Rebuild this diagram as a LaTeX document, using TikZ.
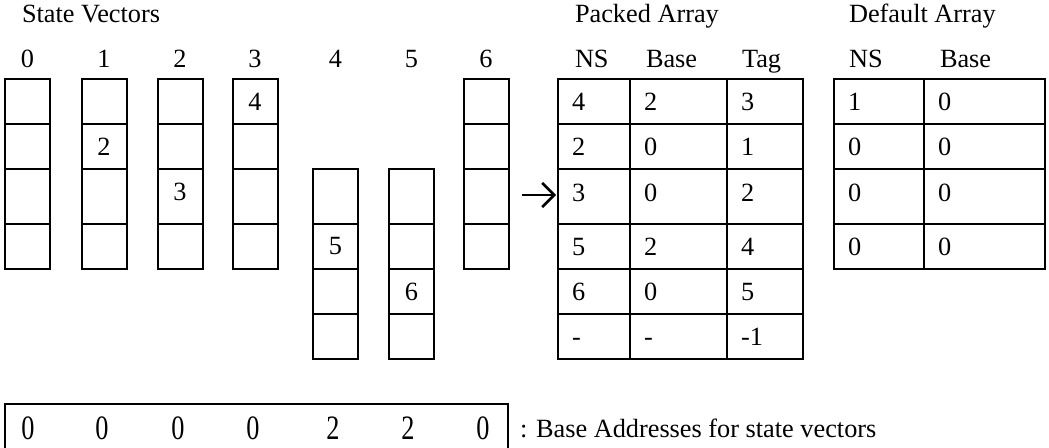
\documentclass[tikz,border=0pt]{standalone}
\usepackage{fontspec}
\setmainfont{Liberation Serif}
\usetikzlibrary{arrows.meta}

\begin{document}
\begin{tikzpicture}[x=1pt, y=-1pt, line width=2pt,
  font=\fontsize{26.3}{31}\selectfont,
  cell/.style = {draw, minimum width=45, minimum height=45, inner sep=0, outer sep=0},
  tall/.style = {minimum height=55},
  entry/.style = {draw, inner xsep=14, inner ysep=0, outer sep=0, text height=18pt, align=left, anchor=west},
  head/.style = {inner sep=0, anchor=base west},
  lab/.style = {inner sep=0, anchor=base}]
\useasboundingbox (0,0) rectangle (1049,447);
\clip (0,0) rectangle (1049,447);

% state vectors
\node[head] (svt) at (21,23) {State Vectors};
\foreach \c/\x in {0/27.5, 1/104, 2/180, 3/255, 6/486} {
  \node[lab] (l\c) at (\x,67) {\c};
  \node[cell] (s\c-1) at (\x,101.5) {};
  \node[cell] (s\c-2) at (\x,146.5) {};
  \node[cell, tall] (s\c-3) at (\x,196.5) {};
  \node[cell] (s\c-4) at (\x,246.5) {};
}
\foreach \c/\x in {4/335.5, 5/411.5} {
  \node[lab] (l\c) at (\x,67) {\c};
  \node[cell, tall] (s\c-3) at (\x,196.5) {};
  \node[cell] (s\c-4) at (\x,246.5) {};
  \node[cell] (s\c-5) at (\x,291.5) {};
  \node[cell] (s\c-6) at (\x,336.5) {};
}
\node at (s3-1) {4};
\node at (s1-2) {2};
\node at ([yshift=4.5pt]s2-3) {3};
\node at (s4-4) {5};
\node at (s5-5) {6};

% packed array
\node[head] (pat) at (574,23) {Packed Array};
\node[head] at (574,67) {NS};
\node[head] at (645,67) {Base};
\node[head] at (741,67) {Tag};
\foreach \r/\y/\h/\d/\ns/\bs/\tg in {1/101.5/45/0/4/2/3, 2/146.5/45/0/2/0/1,
    3/196.5/55/9/3/0/2, 4/246.5/45/0/5/2/4, 5/291.5/45/0/6/0/5, 6/336.5/45/0/-/-/-1} {
  \node[entry, minimum height=\h, text depth=\d, text width=44] (p\r-1) at (558,\y) {\ns};
  \node[entry, minimum height=\h, text depth=\d, text width=69] (p\r-2) at (630,\y) {\bs};
  \node[entry, minimum height=\h, text depth=\d, text width=48] (p\r-3) at (727,\y) {\tg};
}

% default array
\node[head] (dat) at (848,23) {Default Array};
\node[head] at (848,67) {NS};
\node[head] at (939,67) {Base};
\foreach \r/\y/\h/\d/\ns/\bs in {1/101.5/45/0/1/0, 2/146.5/45/0/0/0,
    3/196.5/55/9/0/0, 4/246.5/45/0/0/0} {
  \node[entry, minimum height=\h, text depth=\d, text width=62] (d\r-1) at (834,\y) {\ns};
  \node[entry, minimum height=\h, text depth=\d, text width=93] (d\r-2) at (924,\y) {\bs};
}

\coordinate (arr) at (522,195);
\draw[-{Straight Barb[length=12pt, width=24pt]}, line width=2.5pt, shorten >=2pt] (arr) -- (arr -| p3-1.west);

% base addresses
\node[draw, minimum width=503, minimum height=70, inner sep=0, outer sep=0, anchor=north west] (addr) at (5,404) {};
\foreach \x/\v in {28/0, 102/0, 178/0, 253/0, 333/2, 408/2, 483/0}
  \node at (\x,428.5) {\scalebox{1}[1.3]{\v}};
\node[head] (addrtxt) at (519,437) {: Base Addresses for state vectors};
\end{tikzpicture}
\end{document}
